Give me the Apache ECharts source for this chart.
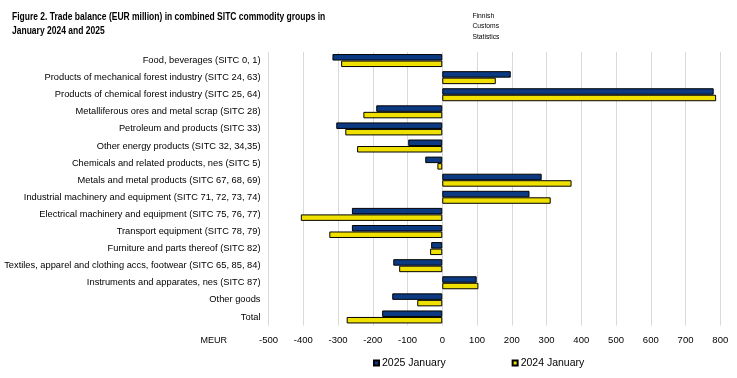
<!DOCTYPE html>
<html>
<head>
<meta charset="utf-8">
<script src="https://cdn.jsdelivr.net/npm/echarts@6/dist/echarts.min.js"></script>
<style>
html,body{margin:0;padding:0;background:#fff;}
#c{width:737px;height:378px;}
</style>
</head>
<body>
<div id="c"></div>
<script>
const categories = [
  "Food, beverages (SITC 0, 1)",
  "Products of mechanical forest industry (SITC 24, 63)",
  "Products of chemical forest industry (SITC 25, 64)",
  "Metalliferous ores and metal scrap (SITC 28)",
  "Petroleum and products (SITC 33)",
  "Other energy products (SITC 32, 34,35)",
  "Chemicals and related products, nes (SITC 5)",
  "Metals and metal products (SITC 67, 68, 69)",
  "Industrial machinery and equipment (SITC 71, 72, 73, 74)",
  "Electrical machinery and equipment (SITC 75, 76, 77)",
  "Transport equipment (SITC 78, 79)",
  "Furniture and parts thereof (SITC 82)",
  "Textiles, apparel and clothing accs, footwear (SITC 65, 85, 84)",
  "Instruments and apparates, nes (SITC 87)",
  "Other goods",
  "Total"
];
const jan2025 = [-316, 197, 781, -190, -305, -98, -49, 286, 251, -260, -260, -32, -141, 99, -144, -173];
const jan2024 = [-291, 154, 788, -227, -279, -245, -14, 372, 312, -407, -325, -35, -124, 104, -72, -275];
const tickMin = -500, tickMax = 800, tickStep = 100;
const titleLines = ['Figure 2. Trade balance (EUR million) in combined SITC commodity groups in', 'January 2024 and 2025'];
const sourceLines = ['Finnish', 'Customs', 'Statistics'];

const chart = echarts.init(document.getElementById('c'), null, {renderer: 'canvas'});
const FONT = '"Liberation Sans", Arial, sans-serif';

const graphics = [];
titleLines.forEach((t, i) => {
  graphics.push({
    type: 'text', x: 12, y: 17 + i * 14.3, scaleX: 0.81,
    style: {text: t, font: 'bold 10.5px ' + FONT, fill: '#000', textAlign: 'left', textVerticalAlign: 'middle'}
  });
});
sourceLines.forEach((t, i) => {
  graphics.push({
    type: 'text', x: 472.5, y: 15.6 + i * 10.4, scaleX: 0.84,
    style: {text: t, font: '8px ' + FONT, fill: '#000', textAlign: 'left', textVerticalAlign: 'middle'}
  });
});
graphics.push({
  type: 'text', x: 200.5, y: 340, scaleX: 0.95,
  style: {text: 'MEUR', font: '9.5px ' + FONT, fill: '#000', textAlign: 'left', textVerticalAlign: 'middle'}
});

chart.setOption({
  animation: false,
  backgroundColor: '#ffffff',
  graphic: graphics,
  legend: {
    data: ['2025 January', '2024 January'],
    top: 357.5, left: 373, padding: 0,
    itemWidth: 5, itemHeight: 5, itemGap: 66,
    icon: 'rect',
    textStyle: {fontFamily: FONT, fontSize: 10.5, color: '#000', padding: [0, 0, 0, -2]}
  },
  grid: {left: 268.5, right: 16.7, top: 52, bottom: 52.5, containLabel: false},
  xAxis: {
    type: 'value', min: tickMin, max: tickMax, interval: tickStep,
    axisLine: {show: false}, axisTick: {show: false},
    splitLine: {show: true, lineStyle: {color: '#d9d9d9', width: 1}},
    axisLabel: {fontFamily: FONT, fontSize: 9.5, color: '#000', margin: 10}
  },
  yAxis: {
    type: 'category', data: categories, inverse: true,
    axisLine: {show: false}, axisTick: {show: false},
    axisLabel: {fontFamily: FONT, fontSize: 9.3, color: '#000', margin: 8}
  },
  series: [
    {
      name: '2025 January', type: 'bar', data: jan2025,
      barGap: '0%', barCategoryGap: '24%',
      itemStyle: {color: '#0b3a82', borderColor: '#000', borderWidth: 1}
    },
    {
      name: '2024 January', type: 'bar', data: jan2024,
      barGap: '0%', barCategoryGap: '24%',
      itemStyle: {color: '#f0e000', borderColor: '#000', borderWidth: 1}
    }
  ]
});
</script>
</body>
</html>
